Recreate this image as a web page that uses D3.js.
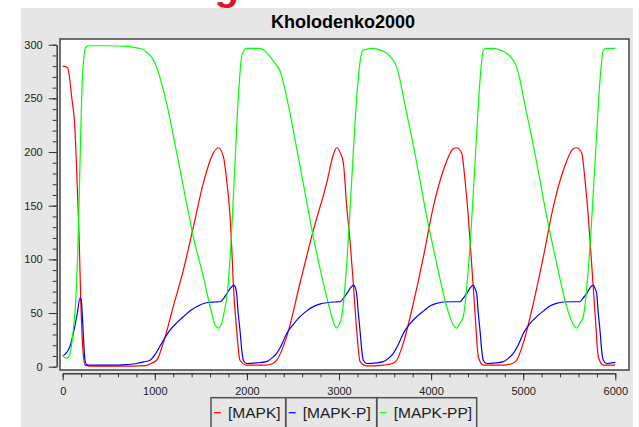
<!DOCTYPE html>
<html>
<head>
<meta charset="utf-8">
<script src="https://cdn.jsdelivr.net/npm/d3@7"></script>
<style>
  html, body { margin: 0; padding: 0; background: #fff; }
  svg { display: block; font-family: "Liberation Sans", Arial, sans-serif; }
</style>
</head>
<body>
<svg id="chart" width="639" height="427"></svg>
<script>
// values: [time, concentration]
const mapk = [
  [0, 280], [50, 279], [70, 272], [98, 251], [134, 220], [152, 183], [170, 140], [181, 112], [195, 65], [217, 19], [242, 1.5],
  [300, 0.5], [600, 0.5], [900, 1], [960, 3], [1020, 6], [1092, 22], [1200, 56], [1310, 90], [1418, 130], [1527, 171],
  [1635, 199], [1690, 204], [1744, 196], [1780, 174], [1817, 140], [1835, 112], [1852, 78], [1889, 34], [1925, 6], [1998, 1.5],
  [2200, 1.5], [2280, 3], [2323, 6], [2432, 28], [2577, 78], [2721, 127], [2866, 171], [2940, 198], [2975, 204], [3015, 199],
  [3047, 190], [3084, 149], [3119, 118], [3155, 78], [3192, 34], [3228, 5], [3301, 0.7], [3481, 1.5], [3580, 3], [3627, 6],
  [3698, 22], [3807, 59], [3916, 102], [4024, 149], [4133, 183], [4241, 203], [4278, 204], [4332, 199], [4368, 174], [4404, 140],
  [4440, 96], [4477, 50], [4513, 9], [4567, 1.5], [4785, 1.5], [4880, 3], [4929, 6], [5001, 22], [5110, 59], [5218, 102],
  [5327, 149], [5436, 183], [5544, 203], [5581, 204], [5635, 199], [5671, 174], [5707, 140], [5743, 96], [5780, 50], [5816, 9],
  [5870, 1.5], [6000, 1.5]
];
const mapkP = [
  [0, 10], [30, 12], [61, 15.5], [90, 22], [115, 31], [159, 50], [188, 64], [200, 63], [212, 50], [224, 30], [242, 6], [260, 2],
  [300, 1.5], [604, 1.5], [700, 2], [803, 3], [880, 4.5], [948, 6], [1000, 11], [1056, 19], [1110, 27], [1165, 34], [1240, 41],
  [1310, 46.6], [1400, 53], [1491, 57.5], [1563, 59.6], [1650, 60.3], [1708, 60.5], [1750, 64], [1781, 68], [1830, 74], [1860, 76],
  [1875, 74], [1889, 68], [1905, 50], [1925, 34], [1945, 15], [1961, 6], [1998, 3], [2100, 3.5], [2215, 4.7], [2270, 8],
  [2323, 12.5], [2380, 21], [2432, 31], [2500, 39], [2577, 46.6], [2650, 52], [2721, 56], [2800, 58.5], [2866, 59.6], [2950, 60.3],
  [3011, 60.5], [3050, 64], [3084, 68], [3130, 74], [3160, 76], [3175, 74], [3192, 68], [3210, 50], [3228, 34], [3248, 15],
  [3264, 6], [3301, 3], [3400, 3.5], [3481, 4.7], [3540, 8], [3590, 12.5], [3645, 21], [3698, 31], [3770, 40], [3844, 46.6],
  [3920, 52], [3988, 56.5], [4060, 59], [4133, 60.3], [4240, 60.5], [4314, 60.5], [4350, 64], [4386, 68], [4430, 74], [4458, 76],
  [4475, 73], [4495, 68], [4512, 50], [4531, 34], [4550, 15], [4567, 6], [4603, 3], [4700, 3.5], [4785, 4.7], [4840, 8],
  [4893, 12.5], [4950, 21], [5001, 31], [5070, 40], [5147, 46.6], [5220, 52], [5291, 56.5], [5360, 59], [5436, 60.3], [5540, 60.5],
  [5617, 60.5], [5650, 64], [5689, 68], [5730, 74], [5761, 76], [5780, 73], [5798, 68], [5815, 50], [5834, 34], [5852, 15],
  [5870, 6], [5906, 3], [6000, 4]
];
const mapkPP = [
  [0, 11], [20, 8.5], [45, 8], [75, 11], [115, 34], [144, 65], [170, 127], [188, 190], [206, 251], [224, 283], [253, 298],
  [300, 299], [500, 299], [700, 298.5], [800, 297], [860, 296], [912, 293], [970, 288], [1020, 279], [1129, 245], [1238, 199],
  [1346, 152], [1418, 121], [1527, 84], [1618, 50], [1660, 38], [1690, 36], [1720, 39], [1744, 47], [1798, 78], [1835, 127],
  [1871, 190], [1907, 251], [1943, 289], [1970, 295], [1998, 296.6], [2142, 296.6], [2200, 294], [2251, 289], [2310, 282],
  [2359, 276], [2432, 251], [2504, 220], [2612, 171], [2721, 121], [2830, 78], [2921, 47], [2950, 39], [2975, 36], [3000, 39],
  [3030, 47], [3084, 96], [3138, 174], [3192, 251], [3230, 285], [3264, 295], [3372, 296.6], [3450, 295], [3518, 292],
  [3627, 279], [3735, 236], [3844, 190], [3952, 140], [4061, 96], [4169, 56], [4240, 39], [4278, 36], [4310, 40], [4350, 47],
  [4422, 112], [4477, 190], [4531, 267], [4567, 295], [4600, 296.6], [4675, 296.6], [4750, 295], [4821, 292], [4929, 279],
  [5038, 236], [5147, 190], [5255, 140], [5364, 96], [5472, 56], [5545, 39], [5581, 36], [5615, 40], [5653, 47], [5725, 112],
  [5780, 190], [5834, 267], [5870, 295], [5906, 296.6], [6000, 296.6]
];
const seriesNames = ['[MAPK]', '[MAPK-P]', '[MAPK-PP]'];
const seriesColors = ['#ff0000', '#0000ff', '#00ff00'];
const xTicks = [0, 1000, 2000, 3000, 4000, 5000, 6000];
const yTicks = [0, 50, 100, 150, 200, 250, 300];
const chartTitle = 'Kholodenko2000';
const captionText = 'Figure 6: 3000 s 00';

const svg = d3.select('#chart');
const x = d3.scaleLinear().domain([0, 6000]).range([62.7, 615.3]);
const y = d3.scaleLinear().domain([0, 300]).range([366.7, 44.7]);

// red caption above the panel, mostly outside the picture
svg.append('text').attr('x', 358).attr('y', -0.5).attr('text-anchor', 'middle')
  .attr('font-size', 40).attr('font-weight', 'bold').attr('fill', '#e3122b').text(captionText);

// grey panel
svg.append('rect').attr('x', 21).attr('y', 8).attr('width', 612).attr('height', 430).attr('fill', '#e6e6e6');

svg.append('text').attr('x', 343).attr('y', 28).attr('text-anchor', 'middle')
  .attr('font-size', 18).attr('font-weight', 'bold').attr('fill', '#000').text(chartTitle);

// plot frame
svg.append('rect').attr('x', 60).attr('y', 39).attr('width', 569).attr('height', 331)
  .attr('fill', '#fff').attr('stroke', '#444').attr('stroke-width', 1.5);

svg.append('clipPath').attr('id', 'plot-clip').append('rect')
  .attr('x', 61).attr('y', 40).attr('width', 567).attr('height', 329);

const line = d3.line().x((d) => x(d[0])).y((d) => y(d[1])).curve(d3.curveMonotoneX);
const plot = svg.append('g').attr('clip-path', 'url(#plot-clip)');
[mapk, mapkP, mapkPP].forEach((rows, i) => {
  plot.append('path').datum(rows).attr('d', line)
    .attr('fill', 'none').attr('stroke', seriesColors[i]).attr('stroke-width', 1.2);
});

// axes: minor ticks first, then major ticks with labels
const styleAxis = (g) => {
  g.selectAll('path, line').attr('stroke', '#333');
  g.selectAll('text').attr('fill', '#222').attr('font-size', 11).attr('font-family', '"Liberation Sans", Arial, sans-serif');
};
svg.append('g').attr('transform', 'translate(0,373.3)')
  .call(d3.axisBottom(x).tickValues(d3.range(0, 6001, 200)).tickSize(4).tickSizeOuter(0).tickFormat(''))
  .call(styleAxis);
svg.append('g').attr('transform', 'translate(0,373.3)')
  .call(d3.axisBottom(x).tickValues(xTicks).tickSize(7).tickSizeOuter(0).tickPadding(7).tickFormat(d3.format('d')))
  .call(styleAxis);
svg.append('g').attr('transform', 'translate(56.7,0)')
  .call(d3.axisLeft(y).tickValues(d3.range(0, 301, 10)).tickSize(4).tickSizeOuter(0).tickFormat(''))
  .call(styleAxis);
svg.append('g').attr('transform', 'translate(56.7,0)')
  .call(d3.axisLeft(y).tickValues(yTicks).tickSize(8).tickSizeOuter(0).tickPadding(6).tickFormat(d3.format('d')))
  .call(styleAxis);

// legend cells along the bottom
const cellEdges = [211, 285.7, 376.7, 476.7];
const legend = svg.append('g');
seriesNames.forEach((name, i) => {
  const left = cellEdges[i];
  legend.append('rect').attr('x', left).attr('y', 397.7).attr('width', cellEdges[i + 1] - left).attr('height', 40)
    .attr('fill', 'none').attr('stroke', '#505050').attr('stroke-width', 1.5);
  legend.append('line').attr('x1', left + 3).attr('x2', left + 10).attr('y1', 412.7).attr('y2', 412.7)
    .attr('stroke', seriesColors[i]).attr('stroke-width', 1.2);
  legend.append('text').attr('x', left + 17).attr('y', 418).attr('font-size', 15.5).attr('fill', '#222').text(name);
});
</script>
</body>
</html>
